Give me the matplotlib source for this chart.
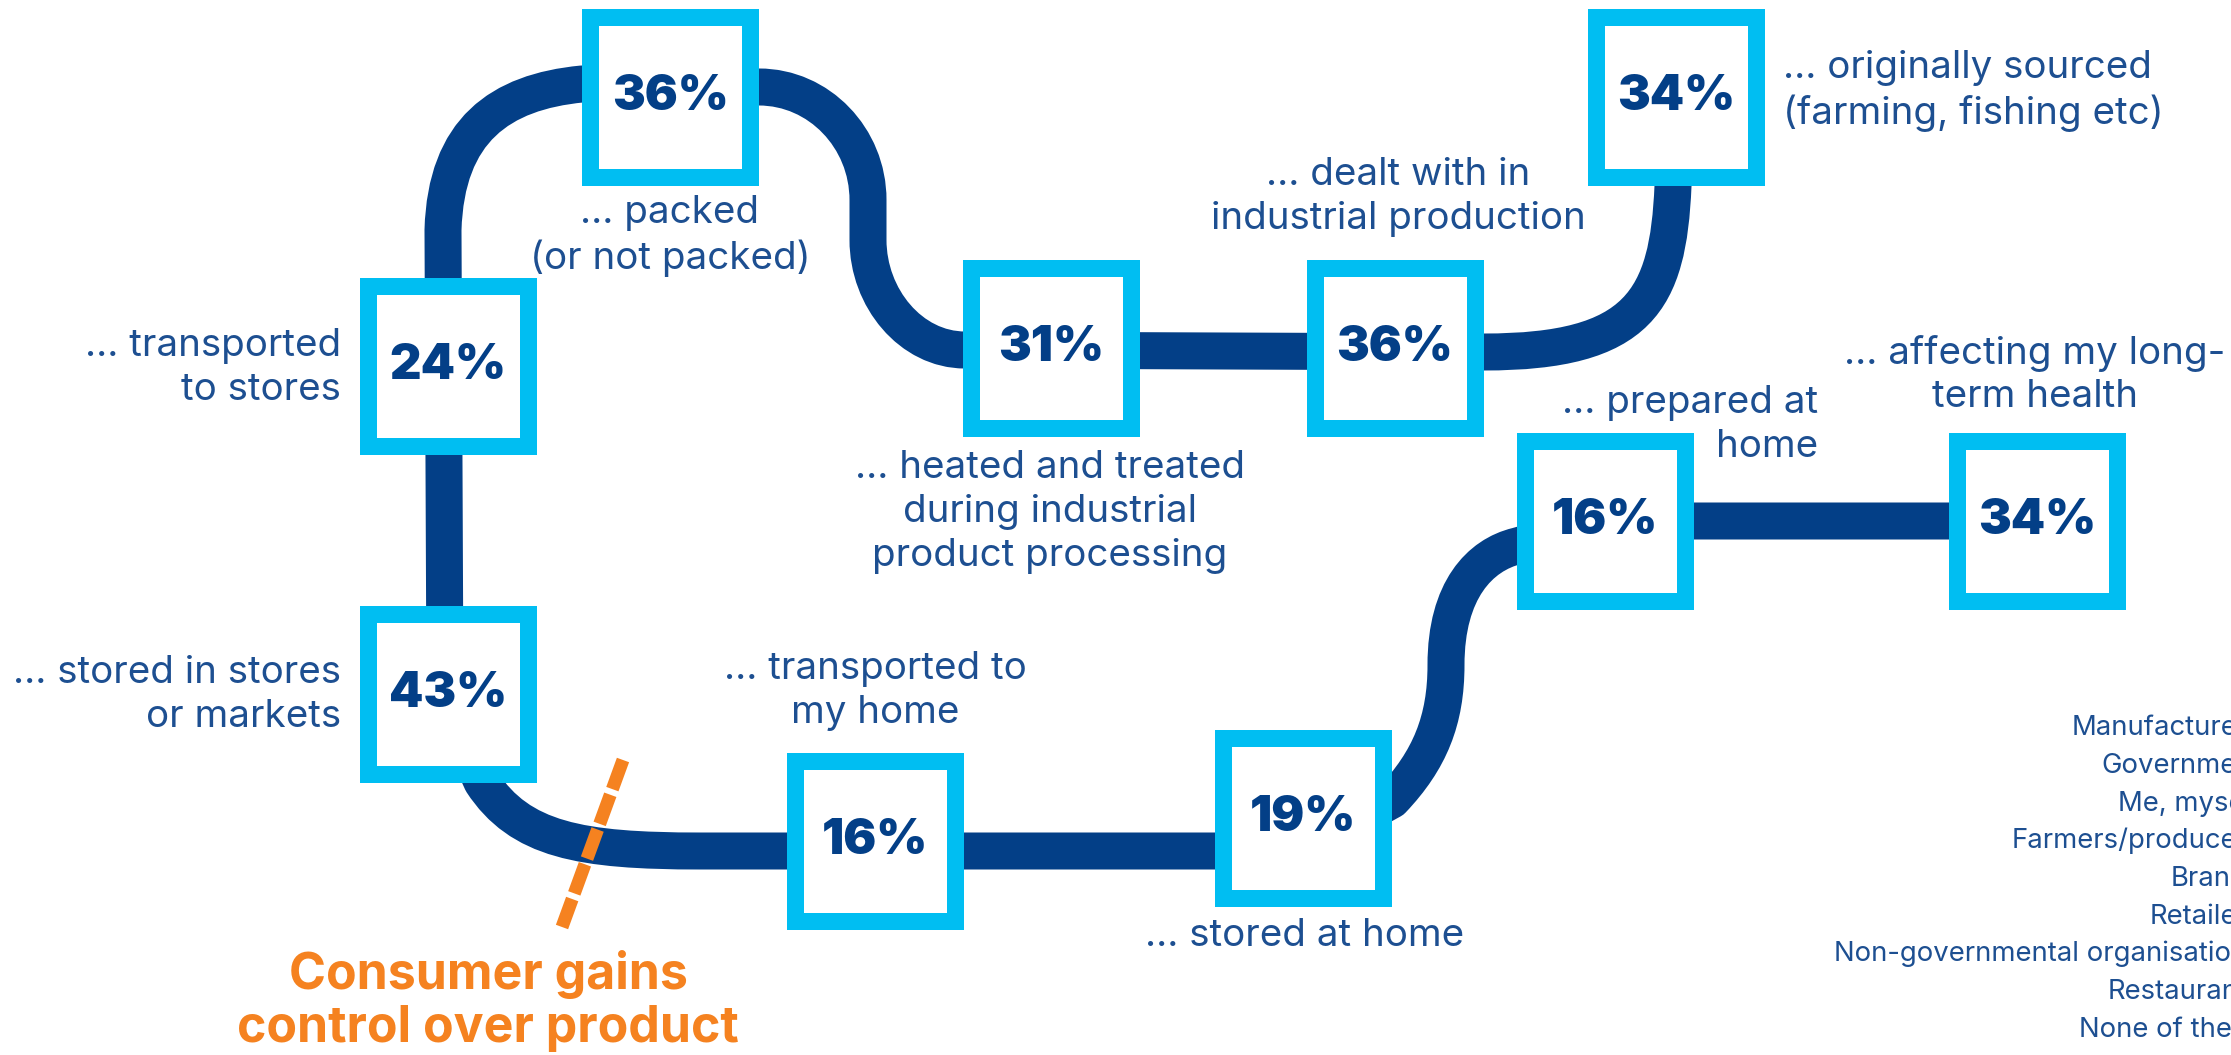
import matplotlib
matplotlib.use('Agg')
import matplotlib.pyplot as plt
from matplotlib.path import Path
from matplotlib.patches import PathPatch, Rectangle

# survey shares for each step of the food chain
values = [34, 36, 31, 36, 24, 43, 16, 19, 16, 34]
stages = ['... originally sourced\n(farming, fishing etc)',
          '... dealt with in\nindustrial production',
          '... heated and treated\nduring industrial\nproduct processing',
          '... packed\n(or not packed)',
          '... transported\nto stores',
          '... stored in stores\nor markets',
          '... transported to\nmy home',
          '... stored at home',
          '... prepared at\nhome',
          '... affecting my long-\nterm health']
responsible = ['Manufacturers', 'Government', 'Me, myself', 'Farmers/producers',
               'Brands', 'Retailers', 'Non-governmental organisations',
               'Restaurants', 'None of these']
marker_text = 'Consumer gains\ncontrol over product'

# layout (pixel coords, y down)
box_xy = [(1676, 97), (1395, 348), (1051, 348), (670, 97), (448, 366),
          (448, 694), (875, 841), (1303, 818), (1605, 521), (2037, 521)]
label_xy = [(1783, 91, 'left'), (1398, 197, 'center'), (1050, 512, 'center'),
            (670, 236, 'center'), (341, 368, 'right'), (341, 695, 'right'),
            (875, 691, 'center'), (1305, 936, 'center'), (1818, 425, 'right'),
            (2035, 375, 'center')]

NAVY = '#033f87'
TEXT = '#1d4f91'
CYAN = '#00bef2'
ORANGE = '#f58220'
PT = 0.72  # points per pixel at dpi 100

W, H = 2231, 1055
fig = plt.figure(figsize=(W / 100, H / 100), dpi=100)
ax = fig.add_axes([0, 0, 1, 1])
ax.set_xlim(0, W)
ax.set_ylim(H, 0)
ax.axis('off')

M, L, C = Path.MOVETO, Path.LINETO, Path.CURVE4
road = [
    ((1673, 150), M), ((1673, 186), L),
    ((1668, 300), C), ((1640, 352), C), ((1484, 352), C),
    ((965, 350), L),
    ((911, 350), C), ((868, 298), C), ((868, 240), C),
    ((868, 200), L),
    ((868, 138), C), ((819, 87), C), ((759, 87), C),
    ((582, 84), L),
    ((500, 92), C), ((446, 130), C), ((443, 230), C),
    ((445, 700), L), ((482, 782), L),
    ((520, 840), C), ((580, 851), C), ((700, 851), C),
    ((1300, 851), L), ((1392, 800), L),
    ((1430, 760), C), ((1446, 720), C), ((1446, 665), C),
    ((1446, 590), C), ((1480, 555), C), ((1517, 546), C),
    ((1605, 521), L), ((2037, 521), L),
]
path = Path([p for p, c in road], [c for p, c in road])
ax.add_patch(PathPatch(path, facecolor='none', edgecolor=NAVY, lw=37 * PT,
                       capstyle='butt', joinstyle='round', zorder=1))

# dashed marker where the consumer takes over
lw_d = 13 * PT
ax.plot([623, 562], [760, 927], color=ORANGE, lw=lw_d, solid_capstyle='butt',
        dash_capstyle='butt', dashes=(31 * PT / lw_d, 6 * PT / lw_d), zorder=3)

size, edge = 177, 17
for (cx, cy), v in zip(box_xy, values):
    ax.add_patch(Rectangle((cx - size / 2 + edge / 2, cy - size / 2 + edge / 2),
                           size - edge, size - edge, facecolor='white',
                           edgecolor=CYAN, lw=edge * PT, joinstyle='miter', zorder=2))
    ax.text(cx, cy, f'{v}%', ha='center', va='center', fontsize=49 * PT,
            family='Inter', fontweight='black', color=NAVY, zorder=4)

for (x, y, ha), s in zip(label_xy, stages):
    ax.text(x, y, s, ha=ha, va='center', fontsize=38.5 * PT, family='Inter',
            color=TEXT, linespacing=1.28, multialignment=ha)

ax.text(488, 1001, marker_text, ha='center', va='center', fontsize=50 * PT,
        family='Inter', fontweight='bold', color=ORANGE, linespacing=1.15)

for i, s in enumerate(responsible):
    ax.text(2262, 728 + i * 37.7, s, ha='right', va='center', fontsize=27.5 * PT,
            family='Inter', color=TEXT)

fig.savefig('out.png', dpi=100)
